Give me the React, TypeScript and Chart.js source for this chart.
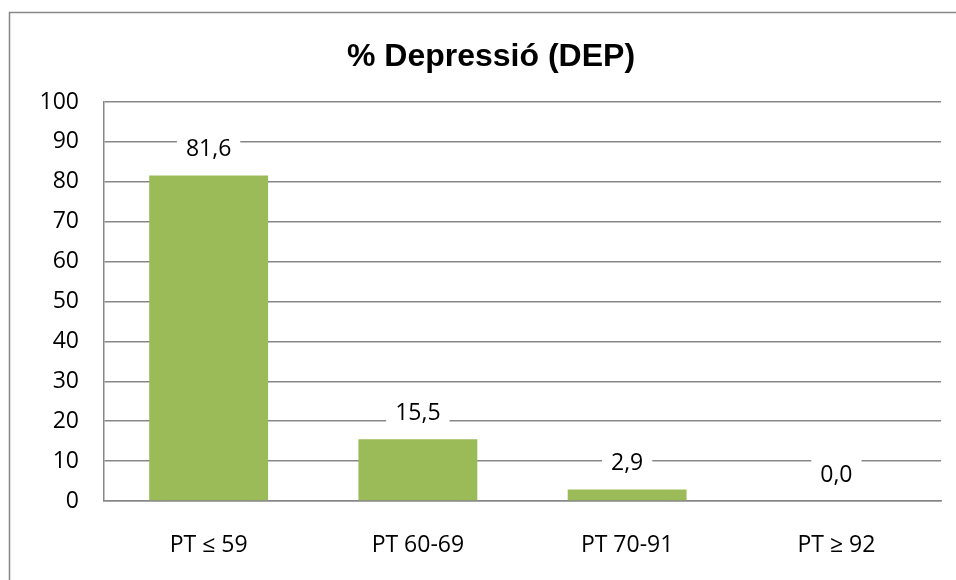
import React, { useEffect, useRef } from "react";
import { Chart, registerables } from "chart.js";

Chart.register(...registerables);

const categories = ["PT ≤ 59", "PT 60-69", "PT 70-91", "PT ≥ 92"];
const depValues = [81.6, 15.5, 2.9, 0.0];
const yTicks = [0, 10, 20, 30, 40, 50, 60, 70, 80, 90, 100];
const chartTitle = "% Depressió (DEP)";

const GRID = "#878787";
const BAR = "#9BBB59";
const FONT = "'Open Sans', 'Noto Sans', sans-serif";

// Outer frame, white background and the bold title
const framePlugin = {
  id: "frameAndTitle",
  beforeDraw(chart: Chart) {
    const ctx = chart.ctx;
    ctx.save();
    ctx.fillStyle = "#ffffff";
    ctx.fillRect(0, 0, chart.width, chart.height);
    ctx.strokeStyle = GRID;
    ctx.lineWidth = 1.5;
    ctx.strokeRect(9.5, 12.5, chart.width + 50, chart.height + 50);
    ctx.fillStyle = "#000000";
    ctx.font = "bold 32px 'Liberation Sans', Arial, sans-serif";
    ctx.textAlign = "center";
    ctx.textBaseline = "alphabetic";
    ctx.fillText(chartTitle, 491, 66);
    ctx.restore();
  },
};

// Value labels above each bar, on a white box that hides the gridlines
const valueLabelPlugin = {
  id: "valueLabels",
  afterDatasetsDraw(chart: Chart) {
    const ctx = chart.ctx;
    const meta = chart.getDatasetMeta(0);
    const data = chart.data.datasets[0].data as number[];
    ctx.save();
    ctx.font = `23px ${FONT}`;
    ctx.textAlign = "center";
    ctx.textBaseline = "middle";
    meta.data.forEach((el: any, i: number) => {
      const text = data[i].toFixed(1).replace(".", ",");
      const cx = el.x;
      const cy = el.y - 26;
      const w = ctx.measureText(text).width + 18;
      const h = 34;
      ctx.fillStyle = "#ffffff";
      ctx.fillRect(cx - w / 2, cy - h / 2, w, h);
      ctx.fillStyle = "#000000";
      ctx.fillText(text, cx, cy);
    });
    ctx.restore();
  },
};

export default function App() {
  const canvasRef = useRef<HTMLCanvasElement | null>(null);

  useEffect(() => {
    if (!canvasRef.current) return;
    const chart = new Chart(canvasRef.current, {
      type: "bar",
      data: {
        labels: categories,
        datasets: [
          {
            data: depValues,
            backgroundColor: BAR,
            borderWidth: 0,
            categoryPercentage: 1,
            barPercentage: 0.568,
          },
        ],
      },
      options: {
        responsive: false,
        animation: false,
        devicePixelRatio: 1,
        layout: { padding: { top: 102, right: 15, left: 0, bottom: 0 } },
        plugins: {
          legend: { display: false },
          title: { display: false },
          tooltip: { enabled: false },
        },
        scales: {
          x: {
            grid: { display: false, drawTicks: false },
            border: { display: true, color: GRID, width: 1.5 },
            ticks: {
              color: "#000000",
              font: { family: FONT, size: 23 },
              padding: 31,
              maxRotation: 0,
            },
            afterFit: (s: any) => {
              s.height = 79;
            },
          },
          y: {
            min: 0,
            max: 100,
            afterBuildTicks: (s: any) => {
              s.ticks = yTicks.map((v) => ({ value: v }));
            },
            grid: { color: GRID, lineWidth: 1.5, drawTicks: false },
            border: { display: true, color: GRID, width: 1.5 },
            ticks: {
              color: "#000000",
              font: { family: FONT, size: 23 },
              padding: 25,
            },
            afterFit: (s: any) => {
              s.width = 104;
            },
          },
        },
      },
      plugins: [framePlugin, valueLabelPlugin],
    });
    return () => chart.destroy();
  }, []);

  return (
    <div style={{ position: "absolute", left: 0, top: 0, width: 956, height: 580 }}>
      <canvas ref={canvasRef} width={956} height={580} style={{ display: "block" }} />
    </div>
  );
}
